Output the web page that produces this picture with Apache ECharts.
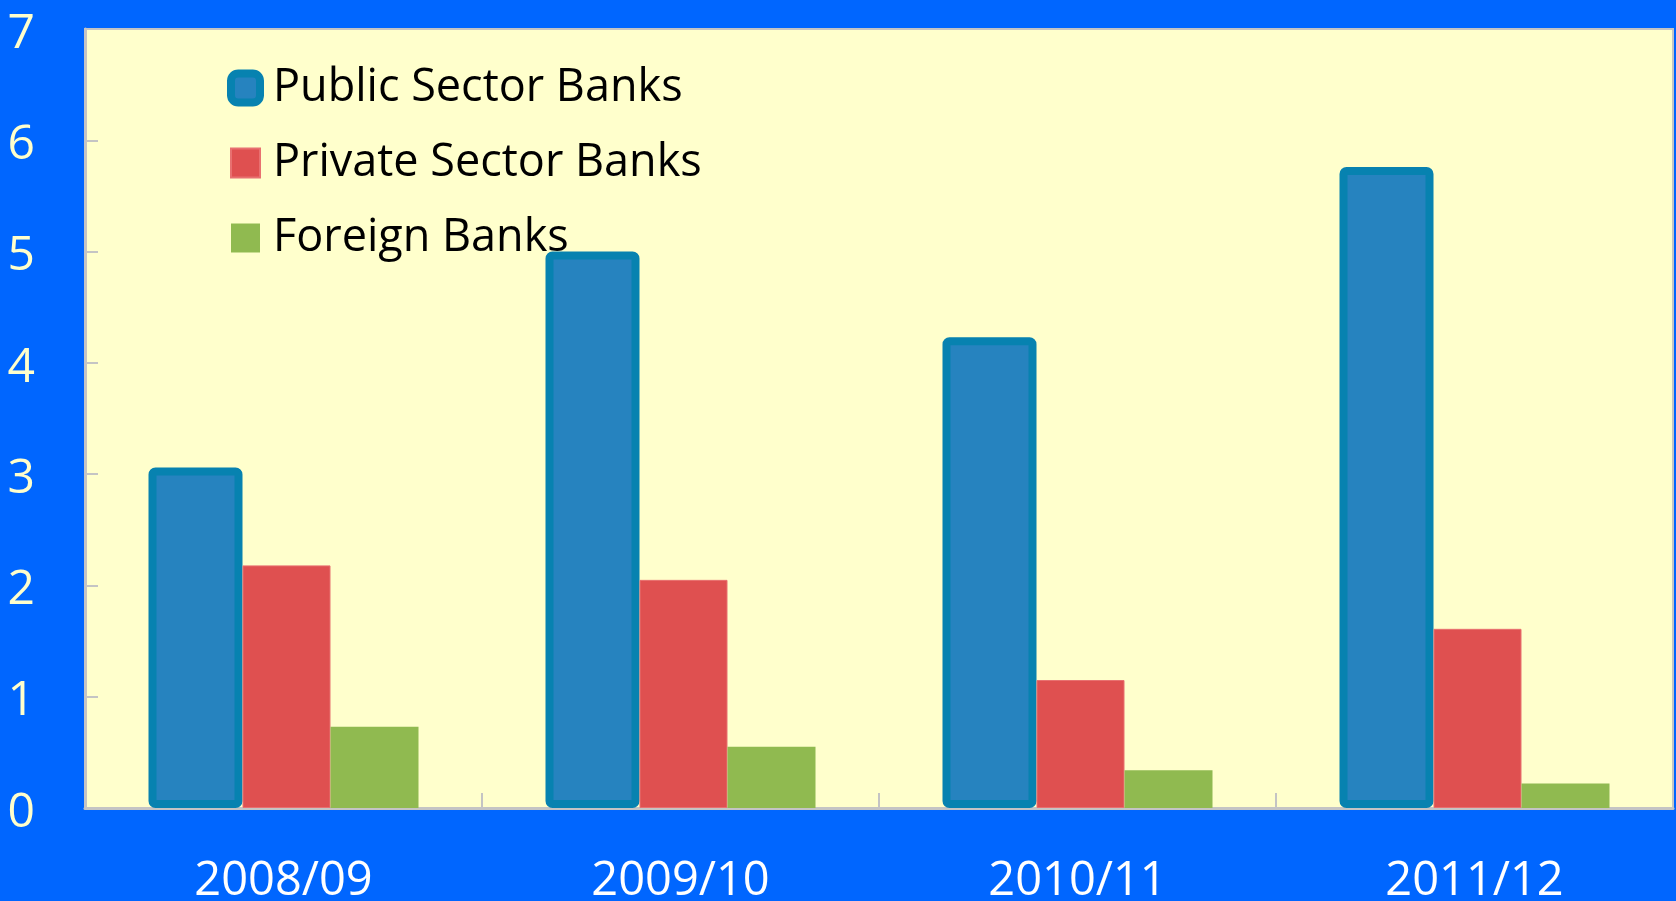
<!DOCTYPE html>
<html>
<head>
<meta charset="utf-8">
<script src="https://cdn.jsdelivr.net/npm/echarts@6/dist/echarts.min.js"></script>
<style>
  html, body { margin: 0; padding: 0; background: #0066FF; }
  #chart { width: 1676px; height: 901px; }
</style>
</head>
<body>
<div id="chart"></div>
<script>
// Financial years on the category axis
const years = ['2008/09', '2009/10', '2010/11', '2011/12'];

// Values per bank group
const publicSector = [3.06, 5.00, 4.23, 5.76];
const privateSector = [2.18, 2.05, 1.15, 1.61];
const foreignBanks = [0.73, 0.55, 0.34, 0.22];

// Value axis ticks
const yTicks = [0, 1, 2, 3, 4, 5, 6, 7];

const FONT = '"Open Sans", "Noto Sans", sans-serif';

const chart = echarts.init(document.getElementById('chart'), null, { renderer: 'canvas' });

chart.setOption({
  backgroundColor: '#0066FF',
  animation: false,
  textStyle: { fontFamily: FONT },
  grid: {
    left: 85,
    right: 3,
    top: 29,
    bottom: 93,
    outerBoundsMode: 'none',
    containLabel: false,
    show: true,
    backgroundColor: '#FFFFCC',
    borderColor: '#C4C4C4',
    borderWidth: 2
  },
  legend: {
    orient: 'vertical',
    left: 222,
    top: 58,
    padding: 5,
    itemWidth: 29,
    itemHeight: 29,
    itemGap: 25,
    icon: 'rect',
    textStyle: { fontFamily: FONT, fontSize: 45, color: '#000000', lineHeight: 50, padding: [0, 0, 0, 8] },
    data: [
      { name: 'Public Sector Banks', icon: 'roundRect', itemStyle: { borderWidth: 8, borderColor: '#0782B0' } },
      { name: 'Private Sector Banks' },
      { name: 'Foreign Banks' }
    ]
  },
  xAxis: {
    type: 'category',
    data: years,
    axisLine: { lineStyle: { color: '#C4C4C4', width: 3 } },
    axisTick: { show: true, inside: true, length: 15, lineStyle: { color: '#C4C4C4', width: 2 } },
    axisLabel: {
      color: '#FFFFFF',
      fontFamily: FONT,
      fontSize: 47,
      lineHeight: 50,
      margin: 49
    },
    splitLine: { show: false }
  },
  yAxis: {
    type: 'value',
    min: yTicks[0],
    max: yTicks[yTicks.length - 1],
    interval: 1,
    axisLine: { show: true, lineStyle: { color: '#C4C4C4', width: 3 } },
    axisTick: { show: true, inside: true, length: 13, lineStyle: { color: '#C4C4C4', width: 2 } },
    axisLabel: {
      color: '#FFFFCC',
      fontFamily: FONT,
      fontSize: 48,
      margin: 50,
      formatter: '{v|{value}}',
      rich: {
        v: { color: '#FFFFCC', fontFamily: FONT, fontSize: 48, padding: [10, 0, 0, 0] }
      }
    },
    splitLine: { show: false }
  },
  series: [
    {
      name: 'Public Sector Banks',
      type: 'bar',
      data: publicSector,
      barWidth: 94,
      barGap: '0%',
      itemStyle: { color: '#2683BF', borderColor: '#0782B0', borderWidth: 8, borderRadius: 3 }
    },
    {
      name: 'Private Sector Banks',
      type: 'bar',
      data: privateSector,
      barWidth: 88,
      barGap: '0%',
      itemStyle: { color: '#DF5050', borderColor: '#E87070', borderWidth: 1 }
    },
    {
      name: 'Foreign Banks',
      type: 'bar',
      data: foreignBanks,
      barWidth: 88,
      barGap: '0%',
      itemStyle: { color: '#90BA50' }
    }
  ]
});
</script>
</body>
</html>
